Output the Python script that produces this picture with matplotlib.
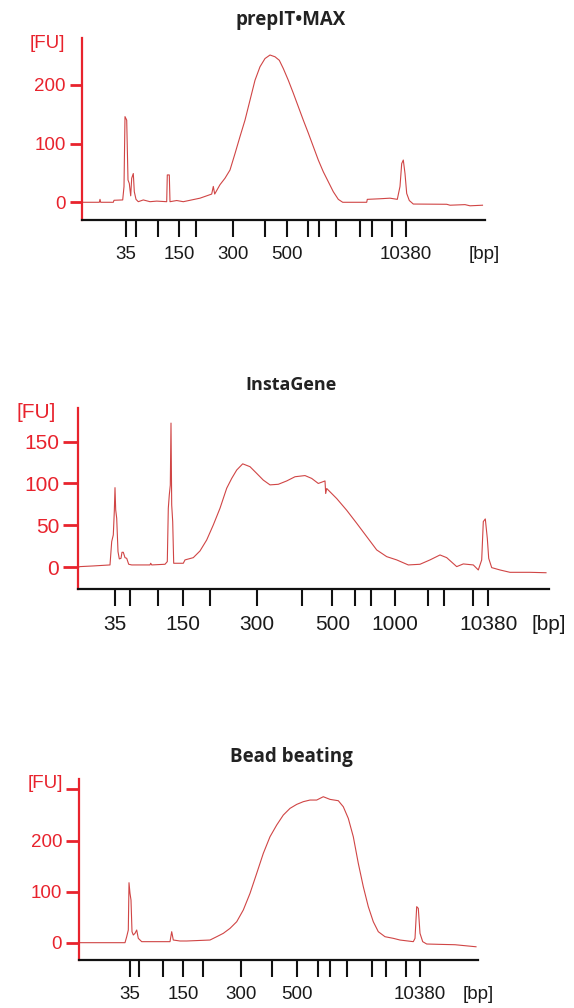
import matplotlib
matplotlib.use('Agg')
import matplotlib.pyplot as plt

W, H = 574, 1008
RED = '#e8232d'
TRACE = '#d04545'
TICK_FONT = ['Liberation Sans Narrow', 'Liberation Sans', 'DejaVu Sans']

# ---- prepIT•MAX ----
max_pos = [81.7, 99.3, 100, 100.7, 113.3, 114, 122.7, 124, 125, 126.7, 128, 129.3, 130.7, 131.7,
           133.3, 134.3, 136, 138.3, 143.3, 150, 156.7, 166.7, 167.3, 169.3, 170, 176.7, 183.3,
           200, 206.7, 211.7, 213.3, 214.7, 220, 225, 230, 235, 240, 245, 250, 255, 260, 265,
           270, 275, 279.3, 283.3, 288.3, 293.3, 298.3, 303.3, 308.3, 313.3, 318.3, 323.3, 328.3,
           333.3, 338.3, 342.7, 366.7, 367.3, 380, 390, 397.3, 400, 401.7, 403.3, 405, 406.7,
           409.3, 413.3, 446.7, 450, 465, 470, 482.5]
max_fu = [0, 0, 5, 0, 0, 3.4, 4, 26.7, 146, 140, 38, 32, 11, 41,
          49, 18, 5, 1, 4, 1, 2, 1, 46.6, 46.6, 1, 3, 1,
          7, 11, 14, 27, 14, 30, 41, 55, 83, 112, 140, 174, 208, 231, 245,
          251, 248, 242, 228, 208, 186, 163, 140, 118, 95, 72, 52, 35,
          18, 5, 0, 0, 5, 6, 7, 5, 27, 66, 72, 49, 15,
          3, -3, -3.4, -5, -4, -6, -5]
max_xticks = [126.2, 136.1, 158.2, 179.2, 196.2, 232.6, 265.0, 286.7, 307.7, 318.7, 335.6,
              359.6, 371.7, 391.9, 405.9]
max_xlabels = ['35', '', '', '150', '', '300', '', '500', '', '', '', '', '', '', '10380']
max_yticks = [0, 100, 200]

# ---- InstaGene ----
insta_pos = [78.3, 80, 93.3, 110, 111.7, 113.3, 114.3, 115, 115.7, 116.7, 118, 119.3, 121, 122,
             123.3, 125, 126.7, 128.7, 131.7, 150, 150.7, 151.7, 165, 167.3, 168.3, 169.3, 170.3,
             171, 171.7, 172.7, 173.7, 183.3, 185, 193.3, 200, 206.7, 213.3, 220, 226.7, 231.7,
             236.7, 242.7, 250, 256.7, 263.3, 270, 278.3, 286.7, 295, 305, 311.7, 318.3, 325,
             325.7, 326.7, 336.7, 346.7, 356.7, 366.7, 376.7, 386.7, 396.7, 408.3, 420, 430, 440,
             446.7, 456.7, 463.3, 473.3, 478.3, 481.7, 483.3, 485.3, 487.3, 488.7, 491.7, 500,
             510, 530, 546]
insta_fu = [0, 0.8, 1.6, 2.8, 30.6, 38.6, 66.5, 95, 68.4, 58.5, 18.7, 10, 10.7, 17.9,
            17.9, 11.5, 10.7, 3.6, 2.8, 2.8, 4.8, 2.8, 3.6, 6.8, 70.4, 86.4, 98,
            172, 74.4, 54.5, 4.8, 4.8, 8.8, 11.5, 19.5, 32.6, 50.5, 70.4, 94.3, 106,
            116, 123.4, 120, 112, 104, 98.3, 99, 103, 108, 109.4, 106, 100, 103,
            88, 94, 82, 68, 52.5, 36.6, 20.7, 12.7, 8.8, 2.8, 3.6, 8.8, 14.7,
            11.5, 0.8, 4, 2.8, -3.2, 8.8, 54.5, 57.7, 34.6, 10.7, -0.4, -3.2,
            -6, -6, -6.5]
insta_xticks = [115.1, 129.5, 158.2, 182.9, 209.8, 256.5, 301.7, 332.3, 355.2, 370.9, 394.9,
                428.0, 444.1, 472.8, 488.3]
insta_xlabels = ['35', '', '', '150', '', '300', '', '500', '', '', '1000', '', '', '', '10380']
insta_yticks = [0, 50, 100, 150]

# ---- Bead beating ----
bead_pos = [79.3, 125, 126.7, 128.3, 129, 130, 131, 132, 133.3, 135, 136.7, 138.3, 141.7, 156.7,
            170, 171.7, 173.3, 180, 186.7, 210, 216.7, 223.3, 230, 236.7, 243.3, 250, 256.7,
            263.3, 270, 276.7, 283.3, 290, 296.7, 303.3, 310, 316.7, 323.3, 330, 338.3, 343.3,
            348.3, 353.3, 358.3, 363.3, 368.3, 373.3, 378.3, 385, 393.3, 400, 413.3, 415, 416.7,
            418.3, 420, 422.7, 426.7, 440, 455, 476]
bead_fu = [0, 0, 11.7, 24.8, 117.4, 96.5, 83.5, 21.5, 15, 18.3, 24.8, 8.5, 2, 2,
           2, 21.5, 5.2, 3.3, 3.3, 5.2, 11.7, 18.3, 28, 41, 64, 96.5, 135.7,
           174.8, 207.4, 230.3, 249.8, 262.9, 270.7, 276, 279.2, 279.2, 285.7, 280.5, 277.9, 266.1,
           243.3, 207.4, 155.3, 109.6, 70.5, 41, 21.5, 11.7, 8.5, 5.2, 2, 8.5, 70.5,
           67.2, 18.3, 2, -2.6, -3.3, -4, -8]
bead_xticks = [129.5, 139.1, 163.1, 183.3, 203.1, 241.0, 272.4, 296.6, 317.6, 330.4, 346.7,
               372.4, 386.4, 405.9, 419.5]
bead_xlabels = ['35', '', '', '150', '', '300', '', '500', '', '', '', '', '', '', '10380']
bead_yticks = [0, 100, 200, 300]
bead_ylabels = ['0', '100', '200', '']

panels = [
    dict(title='prepIT\u2022MAX', box=(81.7, 484.7, 38, 220), ylim=(-30.2, 280), ty=20,
         fu=(47, 43), ylen=8.5, fs=13.5, tfs=13.5, pos=max_pos, fu_vals=max_fu,
         xt=max_xticks, xl=max_xlabels, yt=max_yticks, yl=None),
    dict(title='InstaGene', box=(77.8, 548.7, 408, 589), ylim=(-25.9, 190), ty=385,
         fu=(36, 413), ylen=10.5, fs=15, tfs=13, pos=insta_pos, fu_vals=insta_fu,
         xt=insta_xticks, xl=insta_xlabels, yt=insta_yticks, yl=None),
    dict(title='Bead beating', box=(79.3, 478.4, 779.3, 960), ylim=(-33.9, 319.8), ty=757,
         fu=(45, 783), ylen=9.3, fs=13.5, tfs=13.5, pos=bead_pos, fu_vals=bead_fu,
         xt=bead_xticks, xl=bead_xlabels, yt=bead_yticks, yl=bead_ylabels),
]

fig = plt.figure(figsize=(W / 100, H / 100), dpi=100)

for p in panels:
    l, r, t, b = p['box']
    ax = fig.add_axes([l / W, 1 - b / H, (r - l) / W, (b - t) / H])
    ax.plot(p['pos'], p['fu_vals'], color=TRACE, lw=0.8)
    ax.set_xlim(l, r)
    ax.set_ylim(*p['ylim'])

    for s in ['top', 'right']:
        ax.spines[s].set_visible(False)
    ax.spines['left'].set_color(RED)
    ax.spines['left'].set_linewidth(1.6)
    ax.spines['bottom'].set_color('#111111')
    ax.spines['bottom'].set_linewidth(1.6)

    # [bp] sits at the axis end like a tick label without a tick line
    ax.set_xticks(p['xt'] + [r])
    ax.set_xticklabels(p['xl'] + ['[bp]'], fontsize=p['fs'], family=TICK_FONT, color='#1a1a1a')
    ax.xaxis.get_major_ticks()[-1].tick1line.set_visible(False)
    ax.tick_params(axis='x', length=12, width=1.5, color='#111111', pad=7)

    ax.set_yticks(p['yt'])
    ax.set_yticklabels(p['yl'] or [str(v) for v in p['yt']], fontsize=p['fs'],
                       family=TICK_FONT, color=RED)
    ax.tick_params(axis='y', length=p['ylen'], width=2, color=RED, pad=3)

    fig.text(291 / W, 1 - p['ty'] / H, p['title'], ha='center', va='center',
             fontsize=p['tfs'], fontweight='bold', family=['Open Sans', 'DejaVu Sans'],
             color='#222222')
    fig.text(p['fu'][0] / W, 1 - p['fu'][1] / H, '[FU]', ha='center', va='center',
             fontsize=p['fs'], family=TICK_FONT, color=RED)

fig.savefig('out.png', dpi=100)
